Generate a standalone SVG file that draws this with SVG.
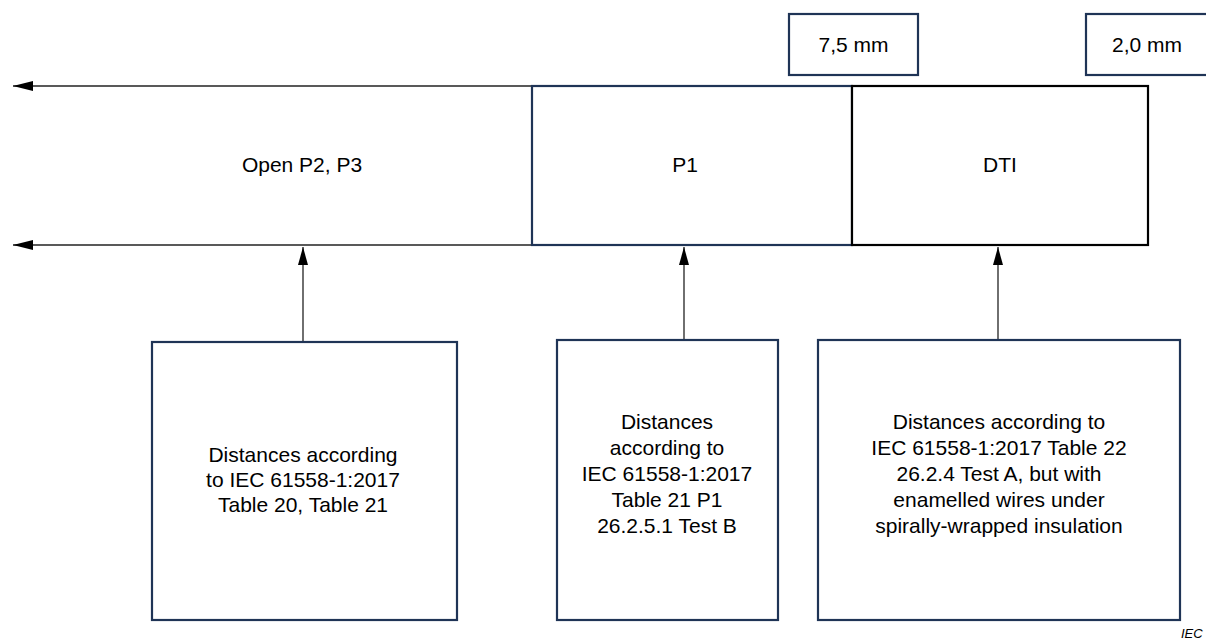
<svg xmlns="http://www.w3.org/2000/svg" width="1206" height="640" viewBox="0 0 1206 640">
<style>
.box{fill:#fff;stroke:#1f3456;stroke-width:2.2}
.dti{fill:#fff;stroke:#000;stroke-width:2.2}
.ln{stroke:#222;stroke-width:1.3;fill:none}
text{font-family:"Liberation Sans",Arial,sans-serif;font-size:21px;fill:#000;text-anchor:middle}
.iec{font-size:13px;font-style:italic;text-anchor:start}
</style>
<defs>
<marker id="ah" markerWidth="20" markerHeight="10" refX="20" refY="5" orient="auto" markerUnits="userSpaceOnUse">
<path d="M0,0 L20,5 L0,10 Z" fill="#000"/>
</marker>
<marker id="av" markerWidth="18" markerHeight="10" refX="18" refY="5" orient="auto" markerUnits="userSpaceOnUse">
<path d="M0,0 L18,5 L0,10 Z" fill="#000"/>
</marker>
</defs>
<g id="connectors">
<line class="ln" x1="532" y1="86" x2="13" y2="86" marker-end="url(#ah)"/>
<line class="ln" x1="532" y1="245" x2="13" y2="245" marker-end="url(#ah)"/>
<line class="ln" x1="303" y1="342" x2="303" y2="247" marker-end="url(#av)"/>
<line class="ln" x1="684" y1="340" x2="684" y2="247" marker-end="url(#av)"/>
<line class="ln" x1="998" y1="340" x2="998" y2="247" marker-end="url(#av)"/>
</g>
<g id="label-75">
<rect class="box" x="789" y="14" width="129" height="61"/>
<text x="853.5" y="52">7,5 mm</text>
</g>
<g id="label-20">
<rect class="box" x="1086" y="14" width="130" height="61"/>
<text x="1147" y="52">2,0 mm</text>
</g>
<g id="open">
<text x="302" y="172">Open P2, P3</text>
</g>
<g id="p1">
<rect class="box" x="532" y="86" width="320" height="159"/>
<text x="685" y="172">P1</text>
</g>
<g id="dti">
<rect class="dti" x="852" y="86" width="296" height="159"/>
<text x="1000" y="172">DTI</text>
</g>
<g id="note1">
<rect class="box" x="152" y="342" width="305" height="278"/>
<text x="303" y="462">Distances according</text>
<text x="303" y="487">to IEC 61558-1:2017</text>
<text x="303" y="512">Table 20, Table 21</text>
</g>
<g id="note2">
<rect class="box" x="557" y="340" width="221" height="280"/>
<text x="667" y="429">Distances</text>
<text x="667" y="455">according to</text>
<text x="667" y="481">IEC 61558-1:2017</text>
<text x="667" y="507">Table 21 P1</text>
<text x="667" y="533">26.2.5.1 Test B</text>
</g>
<g id="note3">
<rect class="box" x="818" y="340" width="362" height="280"/>
<text x="999" y="429">Distances according to</text>
<text x="999" y="455">IEC 61558-1:2017 Table 22</text>
<text x="999" y="481">26.2.4 Test A, but with</text>
<text x="999" y="507">enamelled wires under</text>
<text x="999" y="533">spirally-wrapped insulation</text>
</g>
<text class="iec" x="1181" y="638">IEC</text>
</svg>
